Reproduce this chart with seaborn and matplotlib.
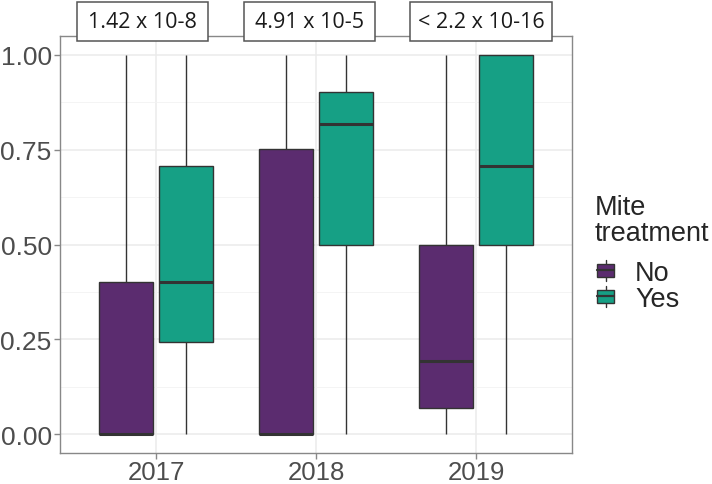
import numpy as np
import pandas as pd
import seaborn as sns
import matplotlib
matplotlib.use("Agg")
import matplotlib.pyplot as plt
from matplotlib.patches import Rectangle, Patch
from matplotlib.lines import Line2D
from matplotlib.legend_handler import HandlerBase

# ---- data (five-number summaries) ----
years = ["2017", "2018", "2019"]
groups = ["No", "Yes"]
no_min = [0.0, 0.0, 0.0]
no_q1 = [0.0, 0.0, 0.068]
no_med = [0.0, 0.0, 0.192]
no_q3 = [0.40, 0.751, 0.50]
no_max = [1.0, 1.0, 1.0]
yes_min = [0.0, 0.0, 0.0]
yes_q1 = [0.242, 0.50, 0.50]
yes_med = [0.40, 0.818, 0.706]
yes_q3 = [0.707, 0.902, 1.0]
yes_max = [1.0, 1.0, 1.0]
pvalues = ["1.42 x 10-8", "4.91 x 10-5", "< 2.2 x 10-16"]
legend_title = "Mite\ntreatment"
y_ticks = [0.0, 0.25, 0.50, 0.75, 1.00]
y_ticklabels = ["0.00", "0.25", "0.50", "0.75", "1.00"]

colors = {"No": "#5B2C6F", "Yes": "#16A085"}

rows = []
summ = {"No": (no_min, no_q1, no_med, no_q3, no_max),
        "Yes": (yes_min, yes_q1, yes_med, yes_q3, yes_max)}
for g in groups:
    for i, yr in enumerate(years):
        for arr in summ[g]:
            rows.append({"year": yr, "group": g, "value": arr[i]})
df = pd.DataFrame(rows)

sns.set_theme(style="white")
plt.rcParams["font.family"] = ["Liberation Sans", "DejaVu Sans"]

fig = plt.figure(figsize=(7.12, 4.85), dpi=100)
ax = fig.add_axes([60 / 712, 31 / 485, 512 / 712, 417 / 485])

sns.boxplot(data=df, x="year", y="value", hue="group", order=years, hue_order=groups,
            palette=colors, width=0.75, gap=0.1, whis=(0, 100), showcaps=False,
            linecolor="#333333", linewidth=1.0, fliersize=0,
            medianprops={"linewidth": 2.2, "color": "#333333"},
            saturation=1, ax=ax, legend=False)

ax.set_xlim(-0.6, 2.6)
ax.set_ylim(-0.05, 1.05)
ax.set_yticks(y_ticks)
ax.set_yticklabels(y_ticklabels)
ax.set_yticks([0.125, 0.375, 0.625, 0.875], minor=True)
ax.set_xlabel("")
ax.set_ylabel("")
ax.grid(True, which="major", color="#EBEBEB", linewidth=1.1, zorder=0)
ax.grid(True, which="minor", axis="y", color="#F2F2F2", linewidth=0.6, zorder=0)
ax.set_axisbelow(True)
for s in ax.spines.values():
    s.set_color("#888888")
    s.set_linewidth(1.0)
ax.tick_params(axis="both", which="major", length=4, width=1, color="#888888",
               labelcolor="#4D4D4D", labelsize=19, pad=2, left=True, bottom=True)
ax.tick_params(axis="x", labelsize=18.5, pad=1)
ax.tick_params(axis="y", which="minor", length=0)

# ---- p-value label boxes ----
box_x = [(77, 208), (244, 375), (410, 552)]
for (x0, x1), txt in zip(box_x, pvalues):
    r = Rectangle((x0 / 712, 1 - 42 / 485), (x1 - x0) / 712, 39 / 485,
                  transform=fig.transFigure, facecolor="white", edgecolor="#555555",
                  linewidth=1.1, zorder=10)
    fig.patches.append(r)
    fig.text((x0 + x1) / 2 / 712, 1 - 23 / 485, txt, ha="center", va="center",
             fontsize=15.5, family=["Open Sans", "DejaVu Sans"], color="#1A1A1A", zorder=11)

# ---- legend with boxplot glyphs ----
class BoxHandler(HandlerBase):
    def create_artists(self, legend, orig_handle, xdescent, ydescent, width, height, fontsize, trans):
        x0, y0 = -xdescent, -ydescent
        fc = orig_handle.get_facecolor()
        cx = x0 + width / 2
        rect = Rectangle((x0 + width * 0.08, y0 + height * 0.2), width * 0.84, height * 0.6,
                         facecolor=fc, edgecolor="#333333", linewidth=1.0, transform=trans)
        med = Line2D([x0 + width * 0.08, x0 + width * 0.92], [y0 + height / 2] * 2,
                     color="#333333", linewidth=1.6, transform=trans)
        w1 = Line2D([cx, cx], [y0, y0 + height * 0.2], color="#333333", linewidth=1.0, transform=trans)
        w2 = Line2D([cx, cx], [y0 + height * 0.8, y0 + height], color="#333333", linewidth=1.0, transform=trans)
        return [w1, w2, rect, med]

handles = [Patch(facecolor=colors[g]) for g in groups]
leg = fig.legend(handles, groups, title=legend_title, loc="upper left",
                 bbox_to_anchor=(595 / 712, 1 - 195 / 485), frameon=False,
                 handler_map={Patch: BoxHandler()}, fontsize=19.5, title_fontsize=19.5,
                 handlelength=0.78, handleheight=0.78, handletextpad=0.7,
                 labelspacing=0.0, borderpad=0, borderaxespad=0, alignment="left")
leg.get_title().set_linespacing(1.0)
leg._legend_box.sep = 10

fig.savefig("out.png", dpi=100)
